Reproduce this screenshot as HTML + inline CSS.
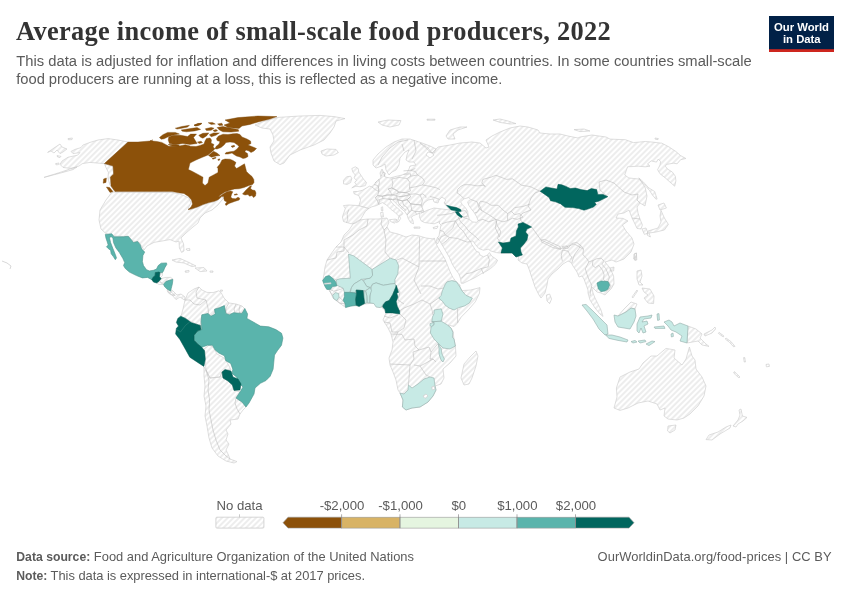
<!DOCTYPE html>
<html lang="en">
<head>
<meta charset="utf-8">
<title>Average income of small-scale food producers, 2022</title>
<style>
html,body{margin:0;padding:0;background:#fff;}
body{width:850px;height:600px;overflow:hidden;font-family:"Liberation Sans",sans-serif;}
svg{display:block;opacity:0.999;will-change:transform;}
text{font-family:"Liberation Sans",sans-serif;}
.title{font-family:"Liberation Serif",serif;font-weight:700;font-size:26.4px;fill:#333;letter-spacing:0.25px;}
.sub{font-size:14.75px;fill:#5b5b5b;}
.foot{font-size:12.9px;fill:#5b5b5b;}
.leg{font-size:13.2px;fill:#5b5b5b;}
.logo{font-size:11.3px;font-weight:700;fill:#fff;}
.b{font-weight:700;font-size:12.2px;}
</style>
</head>
<body>
<svg width="850" height="600" viewBox="0 0 850 600">
<rect width="850" height="600" fill="#fff"/>
<defs><pattern id="nodata" patternUnits="userSpaceOnUse" width="4" height="4" patternTransform="translate(0.5 0) rotate(-45 2 2)"><path d="M-1,2 l6,0" stroke="#ccc" stroke-width="0.7"/></pattern></defs>
<g stroke-linejoin="round">
<polygon points="128.0,142.0 118.0,140.0 108.0,138.6 98.0,140.0 90.0,142.4 83.0,145.0 81.0,147.6 75.0,149.4 71.0,151.4 73.0,153.6 80.0,152.6 77.6,155.2 68.0,157.2 62.0,161.0 60.0,164.4 63.0,167.4 70.0,168.4 77.0,167.0 73.0,169.6 60.0,173.2 44.0,177.4 60.0,172.4 73.0,168.0 79.0,166.0 82.4,163.6 90.0,162.4 99.0,163.2 104.4,163.6" fill="url(#nodata)" stroke="#c9c9c9" stroke-width="0.6"/>
<polygon points="104.4,163.6 106.0,167.6 108.4,172.4 108.0,178.0 109.6,184.4 114.0,190.4 112.4,185.0 110.8,178.0 113.6,174.0 113.0,166.4" fill="url(#nodata)" stroke="#c9c9c9" stroke-width="0.6"/>
<polygon points="47.6,152.4 54.0,148.0 60.0,144.0 62.0,147.0 67.0,149.0 63.0,152.0 60.0,153.6 57.0,150.0 54.0,153.0 51.0,151.0" fill="url(#nodata)" stroke="#c9c9c9" stroke-width="0.6"/>
<polygon points="57.0,155.6 61.0,156.4 60.0,157.6 57.6,157.0" fill="url(#nodata)" stroke="#c9c9c9" stroke-width="0.6"/>
<polygon points="55.6,163.6 59.0,163.0 58.6,164.6 56.0,164.8" fill="url(#nodata)" stroke="#c9c9c9" stroke-width="0.6"/>
<polygon points="68.0,138.6 72.4,138.0 72.0,139.6 68.4,139.8" fill="url(#nodata)" stroke="#c9c9c9" stroke-width="0.6"/>
<polygon points="112.0,192.0 106.0,200.0 100.0,210.0 99.0,220.0 101.0,229.0 106.0,233.6 113.0,236.0 128.0,236.6 133.0,241.0 139.0,242.0 144.0,250.0 147.0,246.0 154.0,242.4 162.0,241.0 170.0,239.6 176.0,242.0 179.0,241.0 179.4,248.0 181.6,252.4 184.0,251.0 183.6,244.0 181.0,238.0 186.0,233.0 193.0,227.0 198.0,223.0 200.0,218.0 205.0,213.0 212.0,210.0 218.0,205.0 222.0,200.0 224.0,197.0 220.0,198.0 214.0,202.0 208.0,203.0 200.0,206.0 190.0,210.0 188.0,208.0 191.0,203.0 189.0,198.0 180.0,194.0 172.0,192.4" fill="url(#nodata)" stroke="#c9c9c9" stroke-width="0.6"/>
<polygon points="160.0,272.6 162.4,272.1 162.4,275.6 160.6,277.4 159.4,276.8" fill="url(#nodata)" stroke="#c9c9c9" stroke-width="0.6"/>
<polygon points="159.4,280.3 161.2,278.5 165.9,277.4 170.6,277.4 172.9,279.1 169.4,280.3 165.9,281.5 163.5,283.8 161.2,282.6" fill="url(#nodata)" stroke="#c9c9c9" stroke-width="0.6"/>
<polygon points="156.5,282.9 158.8,281.5 161.2,282.9 162.9,284.4 158.8,284.4" fill="url(#nodata)" stroke="#c9c9c9" stroke-width="0.6"/>
<polygon points="167.1,289.5 170.6,290.9 172.9,293.8 175.3,295.6 170.6,294.6 167.6,292.1" fill="url(#nodata)" stroke="#c9c9c9" stroke-width="0.6"/>
<polygon points="172.0,260.0 180.0,258.4 188.0,262.0 196.0,266.0 192.0,266.6 184.0,263.0 176.0,262.0" fill="url(#nodata)" stroke="#c9c9c9" stroke-width="0.6"/>
<polygon points="195.0,268.0 204.0,267.6 207.0,271.0 200.0,271.6" fill="url(#nodata)" stroke="#c9c9c9" stroke-width="0.6"/>
<polygon points="185.0,271.0 189.0,270.4 189.0,272.0 185.6,272.4" fill="url(#nodata)" stroke="#c9c9c9" stroke-width="0.6"/>
<polygon points="210.0,271.0 213.0,271.0 213.0,272.2 210.0,272.2" fill="url(#nodata)" stroke="#c9c9c9" stroke-width="0.6"/>
<polygon points="186.0,249.0 189.6,248.4 190.0,250.4 187.0,250.4" fill="url(#nodata)" stroke="#c9c9c9" stroke-width="0.6"/>
<polygon points="181.0,316.4 183.0,309.0 185.0,300.0 188.0,293.0 194.0,289.0 199.0,287.0 202.0,290.0 207.0,292.4 213.0,292.6 218.8,290.8 221.0,292.4 224.0,298.0 229.0,303.0 236.0,304.0 242.0,306.0 245.0,309.0 242.0,313.0 231.0,314.0 226.0,313.0 224.0,306.0 215.0,309.0 214.0,313.0 209.0,317.0 202.0,315.0 200.0,326.0 190.0,321.0 185.0,318.0" fill="url(#nodata)" stroke="#c9c9c9" stroke-width="0.6"/>
<polygon points="170.0,289.0 173.0,291.0 177.0,295.0 181.0,294.0 185.0,297.0 184.4,300.0 180.0,297.0 176.0,299.6 172.0,295.0 168.0,292.0" fill="url(#nodata)" stroke="#c9c9c9" stroke-width="0.6"/>
<polygon points="220.4,290.0 222.4,290.0 222.4,291.2 220.4,291.2" fill="url(#nodata)" stroke="#c9c9c9" stroke-width="0.6"/>
<polygon points="204.0,349.0 209.0,345.0 213.0,347.0 217.0,354.0 224.0,358.0 228.0,364.0 231.0,370.0 226.0,370.0 222.0,372.0 220.0,377.0 210.0,378.0 206.0,370.0 205.0,358.0" fill="url(#nodata)" stroke="#c9c9c9" stroke-width="0.6"/>
<polygon points="204.0,367.0 204.0,376.0 205.0,386.0 204.0,396.0 206.0,406.0 205.0,416.0 207.0,426.0 209.0,438.0 212.0,448.0 218.0,456.0 226.0,461.0 234.0,463.0 237.0,461.6 230.0,459.0 228.0,454.0 226.0,450.0 229.0,444.0 226.0,440.0 228.0,434.0 226.0,430.0 231.0,424.0 230.0,420.0 238.0,419.0 240.0,414.0 243.0,410.0 246.0,407.0 242.0,402.0 236.0,398.0 240.0,392.0 234.0,390.4 232.4,385.0 228.0,381.0 223.0,378.0 222.0,372.0 220.0,377.0 210.0,378.0 206.0,370.0" fill="url(#nodata)" stroke="#c9c9c9" stroke-width="0.6"/>
<polygon points="359.0,220.0 353.0,224.0 349.0,230.0 344.0,235.0 341.0,242.0 336.0,247.0 331.0,254.0 327.0,260.0 325.0,267.0 324.0,274.0 323.0,280.0 325.0,286.0 330.0,291.0 333.0,298.0 338.0,302.0 345.0,307.0 352.0,305.6 358.0,306.0 365.0,304.0 374.0,303.0 379.0,306.0 384.0,309.0 386.0,313.0 383.0,320.0 388.0,328.0 391.0,334.0 393.0,342.0 392.0,350.0 389.0,358.0 390.0,365.0 393.0,372.0 396.0,380.0 398.0,390.0 400.0,393.0 403.0,400.0 402.4,407.0 406.0,410.0 412.0,408.0 420.0,407.0 428.0,402.0 433.0,396.0 436.0,390.0 435.0,386.0 441.0,384.0 444.0,378.0 443.0,369.0 450.0,363.0 456.0,356.0 455.4,346.0 454.0,339.0 453.0,331.0 448.0,325.0 454.1,326.5 457.6,322.9 461.2,317.1 468.2,310.0 475.3,301.8 479.4,293.5 480.0,287.6 470.6,290.0 461.8,290.6 460.0,287.1 460.0,285.0 456.5,282.1 452.9,277.4 450.0,271.5 447.6,265.6 445.3,259.7 441.2,252.6 437.6,246.8 435.3,241.5 434.1,237.9 434.0,239.0 426.0,238.0 418.0,235.6 412.0,235.0 406.0,237.0 398.0,234.0 390.0,232.0 387.0,227.0 389.0,222.0 387.0,218.0 378.0,219.0 368.0,219.0" fill="url(#nodata)" stroke="#c9c9c9" stroke-width="0.6"/>
<polygon points="461.0,378.0 464.0,364.0 470.0,357.0 476.0,351.0 478.0,356.0 476.0,366.0 472.0,378.0 469.0,384.0 464.0,385.0" fill="url(#nodata)" stroke="#c9c9c9" stroke-width="0.6"/>
<polygon points="422.0,143.0 416.0,141.0 410.0,139.0 402.0,139.0 394.0,142.0 386.0,147.0 378.0,154.0 373.0,160.0 373.0,165.0 376.0,168.0 382.0,166.0 385.0,164.0 386.0,170.0 389.0,175.0 392.0,172.0 396.0,170.0 399.0,165.0 400.0,158.0 405.0,152.0 409.0,150.0 407.0,155.0 406.0,160.0 409.0,162.0 414.0,162.0 416.0,165.0 410.0,166.0 409.0,169.0 407.0,173.0 402.0,175.0 396.0,176.4 390.0,178.0 385.0,177.0 384.0,173.0 382.0,169.0 380.0,173.0 381.0,178.0 378.0,180.0 375.0,183.0 376.5,181.5 374.1,184.4 371.8,186.8 369.4,186.2 366.5,187.9 362.4,190.3 357.6,191.5 353.5,191.5 354.1,193.8 358.8,195.6 360.6,200.3 358.8,205.6 348.8,205.0 343.5,205.6 345.3,208.5 344.1,212.1 342.4,216.8 343.5,221.5 347.1,222.6 351.2,223.8 355.3,223.2 360.0,220.3 362.9,215.6 365.3,211.5 368.8,208.5 371.8,206.8 376.5,205.6 378.8,204.4 382.4,202.6 386.5,205.0 390.6,209.1 395.3,212.6 398.8,216.2 398.2,219.7 396.5,222.6 398.8,221.5 400.6,218.5 399.4,215.6 401.8,215.0 402.9,213.2 400.0,210.3 395.3,206.2 391.8,202.6 389.4,199.1 391.8,199.1 395.3,202.6 400.0,207.4 404.7,211.5 407.1,215.0 408.2,218.5 410.6,222.6 413.5,223.8 412.9,220.3 411.2,217.4 413.5,215.6 416.5,214.4 420.0,213.2 419.4,216.8 421.2,220.9 424.7,222.6 429.4,223.2 434.1,223.8 440.0,221.5 439.0,223.0 441.0,225.0 440.0,230.0 439.0,236.0 437.6,237.4 435.9,241.5 437.6,243.8 439.4,240.3 441.8,244.4 445.3,250.3 449.4,257.4 452.4,264.4 455.3,269.1 458.8,273.8 460.6,278.5 461.2,283.2 463.5,283.2 469.4,280.3 475.3,277.4 481.2,273.8 485.9,271.5 490.6,268.5 495.3,264.4 497.6,260.3 495.3,258.5 491.8,256.2 489.4,252.6 487.6,255.0 483.5,256.8 480.0,255.0 478.8,252.1 476.5,251.5 474.1,247.9 471.8,244.4 470.6,241.5 472.9,240.9 475.3,244.4 478.8,248.5 483.5,250.3 488.2,249.1 490.6,250.9 496.5,252.6 501.2,253.2 512.0,253.0 516.0,257.0 519.0,256.4 518.0,260.0 522.0,263.0 527.0,264.0 529.0,269.0 532.0,278.0 535.0,287.0 539.0,295.0 541.0,298.0 545.0,293.0 547.0,285.0 548.0,279.0 552.0,274.0 558.0,269.0 563.0,264.0 568.0,261.0 571.0,262.4 573.0,266.0 577.0,272.0 579.0,277.0 582.0,276.0 584.0,279.0 588.0,290.0 588.0,293.0 590.0,300.0 595.0,308.0 600.0,314.0 603.0,316.4 601.0,310.0 598.0,304.0 595.0,298.0 593.0,293.0 591.6,287.0 594.0,289.0 597.0,292.0 601.0,293.0 605.0,295.0 611.0,289.0 614.0,284.0 613.6,276.0 610.0,268.0 605.0,262.0 612.0,260.0 616.0,262.0 624.0,259.0 631.0,252.0 634.0,244.0 632.0,238.0 626.0,231.0 622.4,225.0 628.0,221.0 623.0,218.4 616.0,218.0 618.0,214.0 624.0,213.0 629.0,210.0 632.0,218.0 635.0,224.0 637.0,228.4 641.0,229.0 642.4,225.0 640.0,219.0 638.0,213.0 637.0,207.0 640.0,203.0 645.0,206.0 647.0,196.0 646.5,193.8 645.3,187.9 641.8,182.1 639.4,179.1 633.5,178.5 628.8,177.9 624.7,175.0 627.6,166.8 638.2,166.2 645.3,166.8 650.0,166.2 647.6,163.8 651.2,160.9 656.5,162.1 658.2,159.1 660.6,161.5 660.0,165.0 657.6,169.7 660.0,173.8 665.3,177.9 671.2,183.2 674.7,186.2 675.9,180.9 675.3,176.2 672.4,172.1 667.6,169.1 665.3,166.2 666.5,164.4 673.5,163.2 677.1,163.8 680.6,159.7 685.9,158.5 680.6,155.6 675.9,151.5 668.8,146.8 661.8,143.2 652.4,142.1 645.3,141.5 633.5,142.6 625.3,139.7 610.0,139.1 606.0,137.0 592.0,135.0 580.0,137.0 578.0,138.0 568.0,136.0 560.0,134.0 550.0,134.0 540.0,133.0 538.0,130.0 528.0,127.0 520.0,126.0 510.0,128.0 500.0,132.0 492.0,136.0 486.0,140.0 489.0,147.0 486.0,148.0 480.0,143.0 472.0,142.0 460.0,143.0 450.0,145.0 438.0,147.0 432.0,153.0 428.0,148.0 420.0,143.0 434.0,155.0 430.0,158.0 426.0,155.0 428.0,152.0 434.0,153.0 436.0,149.0 430.0,146.0" fill="url(#nodata)" stroke="#c9c9c9" stroke-width="0.6"/>
<polygon points="351.8,187.9 355.9,186.2 360.0,186.8 365.3,185.6 366.5,182.6 363.5,179.1 361.2,175.6 358.8,172.1 358.2,168.5 355.3,166.8 351.8,168.5 352.9,172.1 355.3,175.0 354.1,177.9 356.5,180.3 354.7,182.6 356.5,184.4" fill="url(#nodata)" stroke="#c9c9c9" stroke-width="0.6"/>
<polygon points="343.5,180.3 346.5,176.8 350.6,176.2 351.8,178.5 350.6,182.6 347.1,184.4 343.5,183.8" fill="url(#nodata)" stroke="#c9c9c9" stroke-width="0.6"/>
<polygon points="321.0,151.0 327.0,149.0 336.0,149.4 338.4,152.6 334.0,155.0 326.0,156.0 322.0,154.0" fill="url(#nodata)" stroke="#c9c9c9" stroke-width="0.6"/>
<polygon points="378.0,122.0 388.0,120.0 401.0,120.6 399.0,125.0 390.0,127.0 382.0,125.0" fill="url(#nodata)" stroke="#c9c9c9" stroke-width="0.6"/>
<polygon points="381.2,207.4 382.6,206.8 382.9,210.9 381.4,210.6" fill="url(#nodata)" stroke="#c9c9c9" stroke-width="0.6"/>
<polygon points="380.6,212.6 382.9,212.1 383.5,216.8 381.2,217.4" fill="url(#nodata)" stroke="#c9c9c9" stroke-width="0.6"/>
<polygon points="389.4,219.7 395.3,219.1 397.1,219.7 394.7,223.2 390.6,221.5" fill="url(#nodata)" stroke="#c9c9c9" stroke-width="0.6"/>
<polygon points="414.0,227.0 420.0,227.0 420.0,228.2 414.0,228.2" fill="url(#nodata)" stroke="#c9c9c9" stroke-width="0.6"/>
<polygon points="433.0,227.6 438.0,226.0 437.0,228.4 433.6,228.8" fill="url(#nodata)" stroke="#c9c9c9" stroke-width="0.6"/>
<polygon points="446.0,136.0 450.0,130.0 460.0,127.0 467.0,127.0 458.0,130.0 453.0,134.0 455.0,139.0 448.0,139.0" fill="url(#nodata)" stroke="#c9c9c9" stroke-width="0.6"/>
<polygon points="493.0,120.0 500.0,119.0 508.0,121.0 516.0,123.6 510.0,124.0 500.0,122.4" fill="url(#nodata)" stroke="#c9c9c9" stroke-width="0.6"/>
<polygon points="427.0,119.2 435.0,119.2 435.0,120.2 427.0,120.2" fill="url(#nodata)" stroke="#c9c9c9" stroke-width="0.6"/>
<polygon points="574.0,129.6 584.0,129.0 590.0,131.0 580.0,131.6" fill="url(#nodata)" stroke="#c9c9c9" stroke-width="0.6"/>
<polygon points="655.0,138.0 658.4,138.6 658.0,139.6 655.2,139.2" fill="url(#nodata)" stroke="#c9c9c9" stroke-width="0.6"/>
<polygon points="638.8,177.9 642.9,181.5 648.8,187.9 654.7,191.5 657.1,199.1 655.9,199.1 652.4,195.0 649.4,190.3 645.3,185.6 641.2,181.5" fill="url(#nodata)" stroke="#c9c9c9" stroke-width="0.6"/>
<polygon points="658.0,205.0 664.0,203.0 666.4,208.0 660.0,210.0" fill="url(#nodata)" stroke="#c9c9c9" stroke-width="0.6"/>
<polygon points="661.0,210.4 664.4,218.0 668.4,224.4 664.4,230.0 656.0,232.0 649.0,233.0 650.4,237.0 647.0,235.0 648.0,231.0 658.0,228.0 661.0,222.0 660.0,216.0" fill="url(#nodata)" stroke="#c9c9c9" stroke-width="0.6"/>
<polygon points="642.0,229.0 646.0,228.0 648.0,233.0 644.4,234.4" fill="url(#nodata)" stroke="#c9c9c9" stroke-width="0.6"/>
<polygon points="634.0,254.0 636.4,253.0 636.0,260.0 633.6,259.0" fill="url(#nodata)" stroke="#c9c9c9" stroke-width="0.6"/>
<polygon points="610.0,268.0 614.0,267.0 613.6,271.0 610.4,271.0" fill="url(#nodata)" stroke="#c9c9c9" stroke-width="0.6"/>
<polygon points="546.4,295.0 549.6,294.0 551.6,299.0 549.6,303.6 547.0,301.0" fill="url(#nodata)" stroke="#c9c9c9" stroke-width="0.6"/>
<polygon points="255.0,125.0 262.0,122.0 278.0,117.4 300.0,116.0 320.0,115.4 334.0,116.6 345.0,118.6 336.0,121.0 334.0,127.0 330.0,133.0 324.0,140.0 314.0,145.0 300.0,150.0 290.0,155.0 284.0,163.0 280.0,164.6 274.0,161.0 271.0,153.0 270.0,147.0 274.0,141.0 273.0,135.0 270.0,129.0 262.0,128.0" fill="url(#nodata)" stroke="#c9c9c9" stroke-width="0.6"/>
<polygon points="618.0,316.0 624.0,309.0 631.0,302.0 637.0,304.0 635.0,309.0 631.0,308.0 626.0,312.0" fill="url(#nodata)" stroke="#c9c9c9" stroke-width="0.6"/>
<polygon points="688.0,326.0 696.0,329.0 702.0,334.0 700.0,338.0 706.0,344.0 709.0,346.4 702.0,345.0 698.0,341.0 687.0,343.0" fill="url(#nodata)" stroke="#c9c9c9" stroke-width="0.6"/>
<polygon points="704.0,334.0 712.0,330.0 715.0,327.0 715.6,329.0 712.0,333.0 705.0,336.0" fill="url(#nodata)" stroke="#c9c9c9" stroke-width="0.6"/>
<polygon points="637.0,271.0 641.0,270.0 642.0,276.0 640.0,282.0 643.0,285.0 639.0,285.0 637.0,279.0" fill="url(#nodata)" stroke="#c9c9c9" stroke-width="0.6"/>
<polygon points="642.0,288.0 650.0,289.0 654.0,296.0 653.6,303.6 648.0,303.0 644.0,298.0 648.0,295.0 644.0,292.0" fill="url(#nodata)" stroke="#c9c9c9" stroke-width="0.6"/>
<polygon points="632.0,297.0 637.0,290.0 637.6,291.0 632.8,298.0" fill="url(#nodata)" stroke="#c9c9c9" stroke-width="0.6"/>
<polygon points="634.4,254.0 636.4,253.0 636.8,260.0 634.8,260.4" fill="url(#nodata)" stroke="#c9c9c9" stroke-width="0.6"/>
<polygon points="614.0,408.0 617.0,397.0 616.4,388.0 620.0,377.0 630.0,372.0 639.0,369.0 643.0,363.0 651.0,356.0 657.0,356.0 666.0,348.4 675.0,350.0 674.0,358.0 682.0,365.0 686.0,359.0 689.4,347.0 692.0,356.0 695.0,360.0 696.0,369.0 702.0,377.0 706.0,386.0 704.0,396.0 698.0,406.0 690.0,414.0 684.0,418.0 677.0,420.0 668.0,419.0 664.0,416.0 665.0,408.0 660.0,410.0 657.0,404.0 648.0,401.0 638.0,403.0 628.0,408.0 620.0,410.4" fill="url(#nodata)" stroke="#c9c9c9" stroke-width="0.6"/>
<polygon points="668.0,426.0 676.0,425.0 675.0,430.0 670.0,433.0 667.6,431.0" fill="url(#nodata)" stroke="#c9c9c9" stroke-width="0.6"/>
<polygon points="739.0,410.0 741.0,409.0 742.4,416.0 747.0,417.4 743.0,421.0 738.0,424.0 736.0,427.0 733.0,426.0 738.0,420.0 740.0,415.0" fill="url(#nodata)" stroke="#c9c9c9" stroke-width="0.6"/>
<polygon points="731.0,425.0 730.0,428.0 720.0,434.0 712.0,440.0 706.0,439.6 709.0,435.0 718.0,432.0 726.0,427.0" fill="url(#nodata)" stroke="#c9c9c9" stroke-width="0.6"/>
<polygon points="734.4,371.6 740.0,377.0 739.0,378.0 733.6,373.0" fill="url(#nodata)" stroke="#c9c9c9" stroke-width="0.6"/>
<polygon points="743.6,357.6 744.8,357.6 745.4,362.0 744.2,362.0" fill="url(#nodata)" stroke="#c9c9c9" stroke-width="0.6"/>
<polygon points="766.0,364.4 769.0,364.0 769.4,366.4 766.4,366.8" fill="url(#nodata)" stroke="#c9c9c9" stroke-width="0.6"/>
<polygon points="719.0,332.4 724.0,336.0 723.2,337.0 718.4,333.4" fill="url(#nodata)" stroke="#c9c9c9" stroke-width="0.6"/>
<polygon points="726.0,338.0 731.0,341.6 735.0,346.4 733.6,346.8 729.6,342.4 725.2,339.0" fill="url(#nodata)" stroke="#c9c9c9" stroke-width="0.6"/>
<polyline points="206.0,370.0 209.0,380.0 208.0,390.0 209.6,400.0 209.0,410.0 211.0,420.0 213.0,430.0 216.0,440.0 220.0,450.0 226.0,456.0 230.0,459.0" fill="none" stroke="#bebebe" stroke-width="0.6"/>
<polyline points="236.0,398.0 235.0,403.0 237.0,409.0 240.0,414.0" fill="none" stroke="#bebebe" stroke-width="0.6"/>
<polyline points="199.0,287.0 196.0,292.0 197.0,298.0 206.0,300.0 208.0,308.0 209.0,317.0" fill="none" stroke="#bebebe" stroke-width="0.6"/>
<polyline points="229.0,303.0 226.0,308.0 226.0,313.0" fill="none" stroke="#bebebe" stroke-width="0.6"/>
<polyline points="236.0,304.0 234.0,309.0 235.0,313.6" fill="none" stroke="#bebebe" stroke-width="0.6"/>
<polyline points="240.0,305.6 239.0,310.0 239.6,313.2" fill="none" stroke="#bebebe" stroke-width="0.6"/>
<polyline points="185.0,300.0 190.0,300.0 194.0,304.0 200.0,305.0 206.0,300.0" fill="none" stroke="#bebebe" stroke-width="0.6"/>
<polyline points="336.0,247.0 344.0,247.0 344.0,251.0 337.0,252.0 336.0,258.0 327.0,260.0" fill="none" stroke="#bebebe" stroke-width="0.6"/>
<polyline points="368.0,219.0 367.0,226.0 359.0,230.0 353.0,235.0 344.0,240.0 344.0,247.0 349.0,253.0" fill="none" stroke="#bebebe" stroke-width="0.6"/>
<polyline points="382.0,219.0 381.0,224.0 384.0,230.0 387.0,227.0" fill="none" stroke="#bebebe" stroke-width="0.6"/>
<polyline points="384.0,230.0 386.0,240.0 385.0,252.0 390.0,258.0" fill="none" stroke="#bebebe" stroke-width="0.6"/>
<polyline points="397.0,260.0 402.0,258.0 419.0,267.0 419.6,237.0" fill="none" stroke="#bebebe" stroke-width="0.6"/>
<polyline points="419.6,261.0 446.0,261.0" fill="none" stroke="#bebebe" stroke-width="0.6"/>
<polyline points="419.0,267.0 414.0,280.0 418.0,288.0 421.0,294.0" fill="none" stroke="#bebebe" stroke-width="0.6"/>
<polyline points="396.0,286.0 400.0,292.0 398.0,300.0 404.0,304.0" fill="none" stroke="#bebebe" stroke-width="0.6"/>
<polyline points="336.2,280.0 332.6,278.2" fill="none" stroke="#bebebe" stroke-width="0.6"/>
<polyline points="330.3,289.4 333.8,291.2 338.5,290.0 343.2,288.2" fill="none" stroke="#bebebe" stroke-width="0.6"/>
<polyline points="329.1,290.6 332.6,295.3" fill="none" stroke="#bebebe" stroke-width="0.6"/>
<polyline points="339.1,297.1 343.2,300.6" fill="none" stroke="#bebebe" stroke-width="0.6"/>
<polyline points="336.8,300.6 340.3,303.5 345.0,303.5" fill="none" stroke="#bebebe" stroke-width="0.6"/>
<polyline points="398.0,312.0 404.0,308.0 414.0,304.0 422.0,300.0 430.0,304.0 440.0,297.0" fill="none" stroke="#bebebe" stroke-width="0.6"/>
<polyline points="421.0,286.0 430.0,286.0 438.0,289.0 444.0,288.0" fill="none" stroke="#bebebe" stroke-width="0.6"/>
<polyline points="400.0,314.0 406.0,320.0 404.0,328.0 398.0,332.0 394.0,340.0" fill="none" stroke="#bebebe" stroke-width="0.6"/>
<polyline points="384.0,316.0 390.0,318.0 398.0,315.0" fill="none" stroke="#bebebe" stroke-width="0.6"/>
<polyline points="384.0,322.0 390.0,323.0 392.0,332.0 398.0,332.0" fill="none" stroke="#bebebe" stroke-width="0.6"/>
<polyline points="430.0,304.0 432.0,310.0 433.0,315.0" fill="none" stroke="#bebebe" stroke-width="0.6"/>
<polyline points="391.0,334.0 402.0,334.4 405.0,340.0 414.0,339.0 415.0,346.0 419.0,350.0 429.0,347.0 431.0,352.0 438.0,343.6" fill="none" stroke="#bebebe" stroke-width="0.6"/>
<polyline points="390.0,364.0 410.0,365.0 414.0,359.0 413.0,352.0 419.0,350.0" fill="none" stroke="#bebebe" stroke-width="0.6"/>
<polyline points="410.0,365.0 409.0,378.0 408.4,385.0" fill="none" stroke="#bebebe" stroke-width="0.6"/>
<polyline points="414.0,365.0 420.0,366.0 426.0,375.0 430.0,377.0" fill="none" stroke="#bebebe" stroke-width="0.6"/>
<polyline points="420.0,366.0 426.0,363.0 433.0,359.0 436.0,362.0" fill="none" stroke="#bebebe" stroke-width="0.6"/>
<polyline points="431.0,352.0 430.0,359.0 433.0,359.0" fill="none" stroke="#bebebe" stroke-width="0.6"/>
<polyline points="457.6,322.9 457.6,308.8" fill="none" stroke="#bebebe" stroke-width="0.6"/>
<polyline points="348.8,209.5 347.1,214.4 347.8,219.1 346.5,222.6" fill="none" stroke="#bebebe" stroke-width="0.6"/>
<polyline points="358.8,205.6 368.8,208.5" fill="none" stroke="#bebebe" stroke-width="0.6"/>
<polyline points="371.8,186.8 375.3,189.7 378.8,191.5 377.6,195.6 375.3,197.9 377.1,200.3 378.8,204.4" fill="none" stroke="#bebebe" stroke-width="0.6"/>
<polyline points="374.1,184.4 377.6,185.6 378.8,188.5 378.8,191.5" fill="none" stroke="#bebebe" stroke-width="0.6"/>
<polyline points="378.8,179.1 379.4,182.6 378.2,188.5 378.8,191.5" fill="none" stroke="#bebebe" stroke-width="0.6"/>
<polyline points="377.6,195.6 382.4,196.2 387.1,195.0 391.8,195.0 390.6,192.1 388.2,189.1 391.8,187.9 392.9,183.8 391.8,179.1" fill="none" stroke="#bebebe" stroke-width="0.6"/>
<polyline points="381.2,176.2 382.9,172.1 385.3,173.2 384.1,176.8" fill="none" stroke="#bebebe" stroke-width="0.6"/>
<polyline points="375.3,197.9 377.6,195.6 382.4,196.2 382.9,198.5 379.4,199.7 377.1,200.3" fill="none" stroke="#bebebe" stroke-width="0.6"/>
<polyline points="382.4,196.2 387.1,195.0 391.8,195.0 396.5,195.6 397.1,197.9 392.9,199.7 388.2,199.1 382.9,198.5" fill="none" stroke="#bebebe" stroke-width="0.6"/>
<polyline points="388.2,189.1 391.8,187.9 396.5,190.3 398.8,192.1 396.5,193.8 391.8,195.0" fill="none" stroke="#bebebe" stroke-width="0.6"/>
<polyline points="391.8,179.1 398.8,177.4 407.1,178.5 410.0,182.6 409.4,187.9 410.6,190.9 405.9,192.6 398.8,192.1 396.5,190.3 391.8,187.9" fill="none" stroke="#bebebe" stroke-width="0.6"/>
<polyline points="396.5,193.8 398.8,192.1 405.9,192.6 409.4,193.8 408.2,195.6 403.5,196.2 398.8,196.8 396.5,195.6" fill="none" stroke="#bebebe" stroke-width="0.6"/>
<polyline points="398.8,196.8 403.5,196.2 409.4,194.4 410.6,196.8 407.1,199.7 402.4,200.9 397.6,199.7 397.1,197.9" fill="none" stroke="#bebebe" stroke-width="0.6"/>
<polyline points="409.4,194.4 415.3,193.8 420.0,195.0 422.4,200.3 421.2,205.0 415.3,204.4 410.6,203.8 407.1,199.7 410.6,196.8" fill="none" stroke="#bebebe" stroke-width="0.6"/>
<polyline points="410.6,203.8 415.3,204.4 421.2,205.0 422.4,208.5 424.7,210.3 420.0,211.5 415.3,211.5 411.8,210.3 411.2,206.8 410.6,203.8" fill="none" stroke="#bebebe" stroke-width="0.6"/>
<polyline points="409.4,187.9 415.3,186.8 422.4,185.0 429.4,186.2 436.5,187.9 440.0,189.7" fill="none" stroke="#bebebe" stroke-width="0.6"/>
<polyline points="420.0,195.0 422.4,193.8 425.9,196.2 425.9,197.9" fill="none" stroke="#bebebe" stroke-width="0.6"/>
<polyline points="407.1,178.5 410.6,176.2 417.6,175.0 422.4,177.9 424.7,181.5 422.4,185.0" fill="none" stroke="#bebebe" stroke-width="0.6"/>
<polyline points="403.5,174.4 410.6,173.8 410.6,176.2" fill="none" stroke="#bebebe" stroke-width="0.6"/>
<polyline points="403.5,170.9 410.6,170.3 415.3,171.5 417.6,175.0" fill="none" stroke="#bebebe" stroke-width="0.6"/>
<polyline points="410.6,170.3 415.3,168.5" fill="none" stroke="#bebebe" stroke-width="0.6"/>
<polyline points="392.9,199.7 397.6,199.7 402.4,200.9 407.1,199.7 410.6,203.8" fill="none" stroke="#bebebe" stroke-width="0.6"/>
<polyline points="397.6,199.7 398.8,203.8 402.4,207.4 405.9,210.3" fill="none" stroke="#bebebe" stroke-width="0.6"/>
<polyline points="402.4,200.9 403.5,205.0 407.1,207.4 409.4,212.1 407.1,215.0" fill="none" stroke="#bebebe" stroke-width="0.6"/>
<polyline points="409.4,212.1 411.8,210.3" fill="none" stroke="#bebebe" stroke-width="0.6"/>
<polyline points="415.3,211.5 416.5,214.4" fill="none" stroke="#bebebe" stroke-width="0.6"/>
<polyline points="378.8,204.4 379.4,199.7" fill="none" stroke="#bebebe" stroke-width="0.6"/>
<polyline points="388.2,199.1 391.8,199.1" fill="none" stroke="#bebebe" stroke-width="0.6"/>
<polyline points="437.6,237.4 439.4,240.3" fill="none" stroke="#bebebe" stroke-width="0.6"/>
<polyline points="441.8,223.8 447.1,222.1 455.3,220.9 458.8,218.5 462.4,217.4 467.1,216.2 469.4,215.0" fill="none" stroke="#bebebe" stroke-width="0.6"/>
<polyline points="440.0,230.3 443.5,231.5 445.3,235.0 441.2,236.8 439.4,240.3" fill="none" stroke="#bebebe" stroke-width="0.6"/>
<polyline points="445.3,235.0 449.4,237.4 447.1,240.3 441.8,244.4" fill="none" stroke="#bebebe" stroke-width="0.6"/>
<polyline points="455.3,220.9 458.8,226.8 463.5,231.5 467.1,237.4 470.6,241.5" fill="none" stroke="#bebebe" stroke-width="0.6"/>
<polyline points="445.3,235.0 452.9,227.9 455.3,220.9" fill="none" stroke="#bebebe" stroke-width="0.6"/>
<polyline points="449.4,237.4 457.6,238.5 467.1,242.1 470.6,241.5" fill="none" stroke="#bebebe" stroke-width="0.6"/>
<polyline points="496.5,220.9 495.3,227.9 498.8,235.0 497.6,238.5 501.2,243.2 502.4,247.9 501.2,253.2" fill="none" stroke="#bebebe" stroke-width="0.6"/>
<polyline points="461.2,278.5 465.9,273.8 471.8,272.6 481.2,268.5 483.5,273.8" fill="none" stroke="#bebebe" stroke-width="0.6"/>
<polyline points="481.2,268.5 488.2,266.8 489.4,259.7 487.6,255.0" fill="none" stroke="#bebebe" stroke-width="0.6"/>
<polyline points="541.2,240.0 544.7,239.4 551.8,242.9 560.0,246.5 560.6,249.4 552.9,247.6 544.7,243.5 541.2,241.8 541.2,240.0" fill="none" stroke="#bebebe" stroke-width="0.6"/>
<polyline points="562.4,246.5 567.1,245.9 568.2,248.2 563.5,248.8 562.4,246.5" fill="none" stroke="#bebebe" stroke-width="0.6"/>
<polyline points="562.4,261.2 561.2,255.9 562.4,250.0 568.2,251.2 570.0,255.3 571.8,257.1 570.6,259.4" fill="none" stroke="#bebebe" stroke-width="0.6"/>
<polyline points="568.2,248.2 571.8,243.5 576.5,242.4 580.6,245.3 578.8,248.8 575.3,253.5 573.5,257.1 571.8,262.9" fill="none" stroke="#bebebe" stroke-width="0.6"/>
<polyline points="580.6,245.3 583.5,248.8 582.9,254.7 586.5,258.2 588.8,261.8 592.9,260.6" fill="none" stroke="#bebebe" stroke-width="0.6"/>
<polyline points="588.8,261.8 587.1,265.3 585.3,268.8 587.1,274.7 589.4,280.6 591.8,285.3 590.6,290.0 590.0,295.9" fill="none" stroke="#bebebe" stroke-width="0.6"/>
<polyline points="592.9,260.6 592.4,265.3 595.3,267.6 598.8,265.3 602.4,270.0 604.1,274.7 603.5,279.4 605.9,281.8" fill="none" stroke="#bebebe" stroke-width="0.6"/>
<polyline points="592.9,260.6 596.5,258.8 601.2,258.2 604.1,261.2 601.8,264.1 605.9,268.8 609.4,277.1 608.2,281.2" fill="none" stroke="#bebebe" stroke-width="0.6"/>
<polyline points="597.1,284.1 598.8,281.8" fill="none" stroke="#bebebe" stroke-width="0.6"/>
<polyline points="608.2,281.2 610.6,285.3 609.4,288.8 605.9,291.2" fill="none" stroke="#bebebe" stroke-width="0.6"/>
<polyline points="457.6,189.4 460.6,186.5 464.1,184.7 470.0,184.7 477.1,185.9 482.9,185.3 485.3,186.5 481.8,182.9 482.9,179.4 491.2,177.1 495.9,175.3 500.6,177.1 506.5,179.4 512.4,178.8 521.8,185.3 530.0,186.5" fill="none" stroke="#bebebe" stroke-width="0.6"/>
<polyline points="457.6,189.4 457.1,192.9 460.6,195.3 464.1,198.8" fill="none" stroke="#bebebe" stroke-width="0.6"/>
<polyline points="470.6,199.4 477.1,201.8 479.4,208.8 481.8,210.6 478.8,204.1 480.6,201.2 486.5,202.4 491.2,205.3 498.2,205.3 502.9,210.0 507.6,213.5 511.2,211.2 514.7,207.6 522.9,206.5 530.0,204.1" fill="none" stroke="#bebebe" stroke-width="0.6"/>
<polyline points="479.4,208.8 477.1,212.4 474.7,212.9" fill="none" stroke="#bebebe" stroke-width="0.6"/>
<polyline points="481.8,210.6 488.8,214.7 495.9,219.4 502.9,221.8 507.6,220.6 507.6,213.5" fill="none" stroke="#bebebe" stroke-width="0.6"/>
<polyline points="478.2,220.6 482.9,219.4 488.8,221.8 495.9,219.4" fill="none" stroke="#bebebe" stroke-width="0.6"/>
<polyline points="507.6,220.6 512.4,218.2 517.1,219.4 522.9,217.1 519.4,213.5 514.7,214.7 511.2,211.2" fill="none" stroke="#bebebe" stroke-width="0.6"/>
<polyline points="446.5,205.3 444.1,201.8 439.4,199.4 434.7,197.6 430.0,196.5" fill="none" stroke="#bebebe" stroke-width="0.6"/>
<polyline points="461.2,211.2 465.3,210.6 468.2,215.3" fill="none" stroke="#bebebe" stroke-width="0.6"/>
<polyline points="462.4,216.5 465.3,218.2 469.4,219.4" fill="none" stroke="#bebebe" stroke-width="0.6"/>
<polyline points="455.3,211.8 451.2,213.5 444.1,214.7 437.1,215.3" fill="none" stroke="#bebebe" stroke-width="0.6"/>
<polyline points="458.2,217.1 460.6,221.8 465.3,226.5 468.8,231.2 474.7,235.9 479.4,240.6" fill="none" stroke="#bebebe" stroke-width="0.6"/>
<polyline points="495.9,219.4 497.1,225.3 500.6,231.2 499.4,237.1" fill="none" stroke="#bebebe" stroke-width="0.6"/>
<polyline points="378.0,165.0 382.0,157.0 390.0,148.0 398.0,142.0 408.0,140.0" fill="none" stroke="#bebebe" stroke-width="0.6"/>
<polyline points="402.0,144.0 404.0,151.0" fill="none" stroke="#bebebe" stroke-width="0.6"/>
<polyline points="414.0,140.0 416.0,151.0 412.0,159.0" fill="none" stroke="#bebebe" stroke-width="0.6"/>
<polyline points="607.6,196.6 600.0,190.0 599.0,182.0 606.0,180.0 614.0,183.0 624.0,192.0 632.0,195.0 638.0,194.0 637.0,200.0 640.0,203.0" fill="none" stroke="#bebebe" stroke-width="0.6"/>
<polyline points="540.0,191.0 535.0,193.0 531.0,198.0 528.0,206.0 531.0,210.0 523.0,213.0 520.0,216.0 521.0,221.0 523.0,222.4" fill="none" stroke="#bebebe" stroke-width="0.6"/>
<polyline points="531.6,227.0 536.0,233.0 541.0,240.0 550.0,244.0 560.0,249.0 566.0,247.0 574.0,244.0 578.0,246.0 583.0,249.0" fill="none" stroke="#bebebe" stroke-width="0.6"/>
<polyline points="530.0,186.5 540.0,191.2" fill="none" stroke="#bebebe" stroke-width="0.6"/>
<polyline points="632.0,218.0 640.0,219.0" fill="none" stroke="#bebebe" stroke-width="0.6"/>
<polyline points="2.0,261.0 7.0,263.0 11.0,266.0 10.0,269.0" fill="none" stroke="#bebebe" stroke-width="0.6"/>
<polygon points="421.0,213.0 424.0,212.0 422.0,207.0 424.0,203.0 428.0,200.0 433.0,199.0 434.0,202.0 438.0,203.0 439.0,200.0 442.0,197.0 446.0,200.0 444.0,203.0 446.0,205.6 450.0,210.0 442.0,209.0 434.0,208.0 428.0,210.0" fill="#fff" stroke="#c9c9c9" stroke-width="0.6"/>
<polygon points="460.6,201.8 464.1,198.8 468.8,197.6 470.6,199.4 467.6,201.8 468.8,205.3 471.2,208.8 474.1,212.4 476.5,216.5 478.2,220.6 476.5,222.4 472.4,221.8 469.4,219.4 468.2,215.3 467.6,211.2 465.3,207.6 462.4,204.7" fill="#fff" stroke="#c9c9c9" stroke-width="0.6"/>
<polygon points="348.5,254.1 353.8,255.9 372.1,269.4 372.6,275.3 370.3,278.2 366.8,278.8 361.5,279.4 353.8,284.1 351.5,287.6 349.7,292.4 344.4,292.4 343.2,288.2 340.9,287.1 336.8,285.3 336.2,280.0 339.7,278.8 350.3,278.2 349.1,261.8" fill="#c7eae5" stroke="#93adaa" stroke-width="0.6"/>
<polygon points="372.1,269.4 390.3,258.2 396.2,260.0 398.5,265.3 397.9,273.5 395.0,279.4 395.0,283.5 390.3,284.1 383.2,285.3 376.2,282.9 372.6,284.1 370.3,287.6 366.8,286.5 363.2,280.6 366.8,278.8 370.3,278.2 372.6,275.3" fill="#c7eae5" stroke="#93adaa" stroke-width="0.6"/>
<polygon points="361.5,279.4 363.2,280.6 366.8,286.5 370.3,287.6 365.6,290.6 363.2,290.6 356.2,290.0 355.6,292.4 350.3,292.4 351.5,287.6 353.8,284.1" fill="#c7eae5" stroke="#93adaa" stroke-width="0.6"/>
<polygon points="372.6,284.1 376.2,282.9 383.2,285.3 390.3,284.1 395.0,283.5 396.2,286.5 392.6,294.7 389.1,300.6 385.6,301.8 383.2,304.7 380.3,307.6 376.2,307.1 373.8,303.5 369.7,302.9 370.3,291.2 371.5,286.5" fill="#c7eae5" stroke="#93adaa" stroke-width="0.6"/>
<polygon points="366.8,290.0 370.3,287.6 371.5,290.6 369.7,295.9 369.7,302.9 367.4,302.9 366.8,295.9 365.6,291.2" fill="#c7eae5" stroke="#93adaa" stroke-width="0.6"/>
<polygon points="364.4,291.2 365.6,291.2 366.8,295.9 366.8,302.9 365.0,303.5 363.8,297.1" fill="#c7eae5" stroke="#93adaa" stroke-width="0.6"/>
<polygon points="332.6,295.3 335.6,292.6 338.5,293.5 339.1,297.1 336.8,300.6 333.8,298.8" fill="#c7eae5" stroke="#93adaa" stroke-width="0.6"/>
<polygon points="438.8,298.2 441.2,295.3 442.4,290.6 445.3,284.1 447.1,281.8 451.8,280.6 456.5,281.8 460.0,287.1 461.8,290.6 465.9,295.3 472.4,298.2 469.4,302.9 464.7,305.9 458.8,307.6 454.1,310.0 449.4,308.2 445.3,305.3 442.4,301.2" fill="#c7eae5" stroke="#93adaa" stroke-width="0.6"/>
<polygon points="434.1,310.0 441.2,308.8 442.9,314.1 441.8,318.8 441.2,321.2 431.8,321.8 432.4,317.1 434.1,313.5" fill="#c7eae5" stroke="#93adaa" stroke-width="0.6"/>
<polygon points="430.0,323.5 434.1,322.4 434.1,324.7 431.8,326.5 430.0,325.9" fill="#c7eae5" stroke="#93adaa" stroke-width="0.6"/>
<polygon points="431.8,321.8 441.2,321.2 447.1,324.7 451.2,328.2 452.9,332.4 452.4,337.1 454.0,339.0 455.4,346.0 450.0,349.0 443.0,348.0 439.0,344.0 434.0,339.0 430.4,333.0 431.0,327.0 431.8,326.5 434.1,324.7 434.1,322.4" fill="#c7eae5" stroke="#93adaa" stroke-width="0.6"/>
<polygon points="438.0,343.6 441.0,348.0 442.0,354.0 444.4,359.0 443.0,362.0 441.0,360.0 439.0,354.0 439.0,348.0" fill="#c7eae5" stroke="#93adaa" stroke-width="0.6"/>
<polygon points="400.0,393.0 404.0,394.0 408.0,390.0 408.4,385.0 412.0,388.0 418.0,384.0 424.0,379.0 430.0,377.0 434.0,378.0 435.0,386.0 436.0,390.0 433.0,396.0 428.0,402.0 420.0,407.0 412.0,408.0 406.0,410.0 402.4,407.0 403.0,400.0" fill="#c7eae5" stroke="#93adaa" stroke-width="0.6"/>
<polygon points="582.0,305.0 586.0,304.4 593.0,311.0 600.0,318.0 607.0,325.0 608.0,334.0 605.0,335.0 599.0,329.0 593.0,319.0 587.0,311.0" fill="#c7eae5" stroke="#93adaa" stroke-width="0.6"/>
<polygon points="605.6,335.0 612.0,335.0 620.0,337.0 628.0,340.0 627.0,342.0 618.0,340.4 609.0,338.4" fill="#c7eae5" stroke="#93adaa" stroke-width="0.6"/>
<polygon points="614.0,315.0 618.0,316.0 626.0,312.0 631.0,308.0 635.0,309.0 636.0,316.0 634.0,322.0 630.0,329.0 624.0,328.0 618.0,327.0 615.0,322.0" fill="#c7eae5" stroke="#93adaa" stroke-width="0.6"/>
<polygon points="637.0,324.0 640.0,317.0 648.0,316.0 652.0,315.0 651.0,318.0 644.0,319.0 642.0,322.0 647.0,321.0 648.0,324.0 644.0,326.0 646.0,332.0 643.0,333.0 641.0,328.0 639.0,333.0 637.0,331.0" fill="#c7eae5" stroke="#93adaa" stroke-width="0.6"/>
<polygon points="631.0,341.6 635.0,340.4 637.0,342.0 633.0,343.0" fill="#c7eae5" stroke="#93adaa" stroke-width="0.6"/>
<polygon points="638.0,341.0 645.0,340.0 646.0,341.6 640.0,343.0" fill="#c7eae5" stroke="#93adaa" stroke-width="0.6"/>
<polygon points="646.0,344.0 652.0,341.0 655.0,341.6 649.0,345.6" fill="#c7eae5" stroke="#93adaa" stroke-width="0.6"/>
<polygon points="657.0,314.0 659.0,313.6 659.4,320.0 657.6,320.4" fill="#c7eae5" stroke="#93adaa" stroke-width="0.6"/>
<polygon points="654.0,327.0 664.0,326.0 665.0,328.4 655.0,328.4" fill="#c7eae5" stroke="#93adaa" stroke-width="0.6"/>
<polygon points="664.0,322.0 669.0,320.0 672.0,322.0 674.0,326.0 680.0,323.0 688.0,326.0 687.0,343.0 680.0,341.0 682.0,336.0 676.0,332.0 671.0,330.0 668.0,326.0" fill="#c7eae5" stroke="#93adaa" stroke-width="0.6"/>
<polygon points="671.0,334.0 673.0,333.0 673.4,336.4 671.4,337.0" fill="#c7eae5" stroke="#93adaa" stroke-width="0.6"/>
<polygon points="105.3,234.4 111.8,233.8 114.1,236.8 123.5,236.8 128.2,236.2 131.2,239.7 133.5,242.6 137.6,241.5 140.0,244.4 141.8,249.1 144.7,252.1 142.9,255.6 142.4,261.5 143.5,265.6 146.5,269.7 149.4,270.9 153.5,270.3 156.5,269.1 158.2,265.6 161.2,263.2 166.5,262.9 166.8,264.4 164.7,267.9 163.5,270.9 162.4,272.6 159.4,272.6 158.8,272.1 155.3,272.6 155.1,275.6 152.9,277.4 151.8,279.7 147.6,277.4 142.4,277.9 136.5,275.6 129.4,272.1 125.3,268.5 123.5,265.6 124.7,262.6 122.9,258.5 119.4,252.6 115.9,247.9 113.5,242.6 112.9,237.9 111.2,236.8 109.4,237.4 110.6,242.6 112.9,248.5 115.3,254.4 116.5,257.9 115.3,259.7 113.5,256.8 111.2,253.8 110.6,250.3 108.2,248.5 106.5,246.8 108.2,245.0 107.1,241.5 105.9,237.9" fill="#5ab4ac" stroke="#4a938c" stroke-width="0.6"/>
<polygon points="163.5,284.4 165.9,281.5 169.4,280.3 172.9,279.4 172.4,283.8 171.2,288.5 170.6,290.9 167.1,289.1 164.7,286.8" fill="#5ab4ac" stroke="#4a938c" stroke-width="0.6"/>
<polygon points="201.8,314.8 208.1,313.4 210.9,316.2 215.2,314.1 214.5,309.2 219.4,307.8 224.4,305.6 225.8,313.4 229.3,314.8 233.5,312.7 242.0,313.4 244.8,308.5 247.6,314.1 246.9,318.4 251.9,321.2 260.4,326.1 268.8,326.8 275.9,329.6 281.5,333.2 282.9,338.1 281.5,345.2 277.3,350.8 274.5,355.1 273.8,362.1 273.1,369.2 270.2,376.2 266.0,380.5 260.4,383.3 255.0,388.0 254.0,394.0 249.0,403.0 246.0,407.0 242.0,402.0 236.0,398.0 240.0,392.0 243.0,387.0 240.0,384.0 240.6,384.0 239.2,381.2 236.4,376.9 232.1,373.4 232.8,369.2 230.7,363.5 225.8,360.7 224.4,355.8 218.7,352.9 215.2,350.1 212.4,345.2 207.4,345.2 201.8,347.3 198.2,344.5 194.0,340.2 194.0,335.3 197.5,331.1 201.8,329.6 201.1,321.2" fill="#5ab4ac" stroke="#4a938c" stroke-width="0.6"/>
<polygon points="344.4,292.4 349.7,292.4 355.6,292.9 356.4,294.7 355.6,299.4 356.2,305.3 350.3,306.2 345.6,307.6 345.0,303.5 343.2,300.6 344.4,296.5" fill="#5ab4ac" stroke="#4a938c" stroke-width="0.6"/>
<polygon points="322.6,280.6 325.6,276.5 329.1,275.6 332.6,278.2 335.6,281.8 336.8,285.9 332.6,286.5 330.3,289.4 326.8,289.4 325.0,286.5 323.8,283.5" fill="#5ab4ac" stroke="#4a938c" stroke-width="0.6"/>
<polygon points="597.0,283.0 601.0,281.0 608.0,281.6 609.6,285.0 608.0,289.0 605.0,291.0 601.0,291.6 598.4,289.0" fill="#5ab4ac" stroke="#4a938c" stroke-width="0.6"/>
<polygon points="128.0,142.0 138.0,142.0 150.0,141.0 153.0,140.0 150.0,140.8 157.1,141.5 161.8,142.4 168.8,146.2 179.4,145.9 185.3,144.8 190.0,145.9 190.0,146.2 196.0,146.5 200.0,145.5 204.0,144.0 205.0,141.0 206.5,138.5 210.0,138.0 211.5,140.0 211.0,143.0 214.0,144.5 213.0,147.0 215.0,148.7 212.5,151.2 208.0,155.0 203.0,157.0 196.0,160.0 190.0,163.0 188.4,169.6 192.0,171.2 198.0,174.4 203.0,177.2 202.4,183.0 205.0,185.6 208.0,183.0 209.2,177.2 213.0,175.2 218.0,172.4 218.0,168.0 217.0,167.5 220.0,164.0 222.0,160.0 225.0,159.0 230.0,159.2 233.0,160.5 236.0,162.5 234.5,166.0 236.5,168.5 240.0,166.5 244.5,163.8 245.5,167.5 246.5,171.5 249.0,174.0 252.0,176.5 253.8,179.5 254.0,182.5 252.5,184.5 249.0,185.5 244.0,187.5 239.0,188.8 234.5,189.0 230.0,190.3 225.0,192.0 221.0,194.5 218.5,196.8 220.0,196.2 223.0,194.0 227.0,191.8 230.5,191.0 232.8,191.8 231.5,194.5 230.8,197.2 232.5,198.5 235.5,198.8 238.0,197.2 239.8,198.2 239.2,200.0 234.5,201.5 229.0,203.5 226.0,205.5 225.2,204.0 227.0,202.0 224.5,200.8 223.8,198.5 224.0,196.5 221.5,196.5 219.5,198.5 218.0,199.8 214.5,201.2 209.0,202.5 203.0,204.5 198.0,206.8 192.0,208.8 188.0,209.7 191.0,207.0 192.5,204.0 191.5,200.0 188.5,196.5 184.0,193.5 180.0,193.0 172.0,191.6 115.0,191.6 111.0,186.0 110.4,177.0 113.6,174.0 113.0,166.0 104.4,163.6" fill="#8c510a" stroke="#7a4709" stroke-width="0.4"/>
<polygon points="103.6,179.0 106.4,178.0 106.0,182.4 103.2,183.2" fill="#8c510a" stroke="#7a4709" stroke-width="0.4"/>
<polygon points="106.4,187.0 109.6,187.6 113.0,191.6 110.0,192.4" fill="#8c510a" stroke="#7a4709" stroke-width="0.4"/>
<polygon points="168.2,140.0 168.8,137.1 173.5,135.3 180.6,135.3 187.6,136.5 190.6,134.1 196.5,134.1 193.5,137.6 195.3,140.6 197.1,143.5 190.0,144.4 182.9,143.5 175.9,144.4 169.4,143.5" fill="#8c510a" stroke="#7a4709" stroke-width="0.4"/>
<polygon points="159.4,137.6 162.9,134.7 167.6,132.4 175.3,132.4 179.4,134.1 173.5,134.9 168.2,136.8 164.1,138.8 161.2,139.2" fill="#8c510a" stroke="#7a4709" stroke-width="0.4"/>
<polygon points="175.3,128.2 181.8,126.5 189.4,125.3 187.6,127.1 181.8,128.2 177.1,129.1" fill="#8c510a" stroke="#7a4709" stroke-width="0.4"/>
<polygon points="181.2,130.0 188.8,128.8 197.1,127.6 200.6,129.4 194.7,130.9 186.5,131.8 182.4,131.2" fill="#8c510a" stroke="#7a4709" stroke-width="0.4"/>
<polygon points="194.1,125.1 198.2,123.5 201.8,123.5 199.4,125.1 195.9,125.9" fill="#8c510a" stroke="#7a4709" stroke-width="0.4"/>
<polygon points="198.8,135.3 202.9,133.3 208.8,132.9 206.5,135.9 202.9,138.2 200.6,137.3" fill="#8c510a" stroke="#7a4709" stroke-width="0.4"/>
<polygon points="205.3,128.8 211.2,127.4 214.1,128.2 211.2,130.2 206.5,130.6" fill="#8c510a" stroke="#7a4709" stroke-width="0.4"/>
<polygon points="208.2,122.7 212.4,122.4 215.3,124.1 211.2,124.4" fill="#8c510a" stroke="#7a4709" stroke-width="0.4"/>
<polygon points="209.4,134.7 213.5,132.9 219.4,132.9 215.9,135.3 211.2,136.8" fill="#8c510a" stroke="#7a4709" stroke-width="0.4"/>
<polygon points="217.1,127.6 222.9,126.5 227.6,127.6 238.2,129.4 238.8,131.2 231.2,132.1 222.9,131.8 219.4,130.0" fill="#8c510a" stroke="#7a4709" stroke-width="0.4"/>
<polygon points="217.6,123.9 221.8,123.2 222.9,125.3 219.4,125.5" fill="#8c510a" stroke="#7a4709" stroke-width="0.4"/>
<polygon points="197.4,142.1 201.1,141.2 202.5,142.6 199.2,143.5" fill="#8c510a" stroke="#7a4709" stroke-width="0.4"/>
<polygon points="212.9,130.4 216.2,129.4 217.6,130.8 214.8,131.8" fill="#8c510a" stroke="#7a4709" stroke-width="0.4"/>
<polygon points="194.1,125.2 197.4,123.8 201.6,123.1 201.1,124.2 197.8,125.6 195.0,125.9" fill="#8c510a" stroke="#7a4709" stroke-width="0.4"/>
<polygon points="168.2,144.5 173.8,144.3 179.5,144.9 178.5,146.1 171.9,146.1" fill="#8c510a" stroke="#7a4709" stroke-width="0.4"/>
<polygon points="225.0,120.0 238.0,117.6 258.0,116.0 277.0,116.6 270.0,119.0 258.0,122.0 250.0,124.4 242.0,126.0 239.0,128.4 228.0,127.6 224.0,125.0 230.0,123.0" fill="#8c510a" stroke="#7a4709" stroke-width="0.4"/>
<polygon points="216.5,138.5 218.5,136.0 223.0,134.2 228.0,134.5 233.0,133.8 237.0,133.5 240.0,134.5 242.0,137.0 247.0,139.0 250.5,141.0 251.0,143.5 248.0,145.0 253.0,147.0 256.5,148.5 254.0,151.0 251.0,152.5 249.0,151.0 246.0,150.0 244.8,151.8 247.5,153.5 248.0,156.5 245.5,158.0 243.0,158.5 240.0,157.0 236.5,156.0 234.0,154.5 232.0,153.0 228.0,154.0 225.0,154.0 226.0,152.5 230.0,151.8 234.0,151.2 237.0,149.0 239.0,146.5 237.0,144.5 234.0,142.5 230.0,142.0 226.0,142.5 224.0,145.0 221.0,147.5 217.0,149.0 215.0,148.7 216.0,146.5 219.0,144.0 220.0,141.5 217.0,140.5" fill="#8c510a" stroke="#7a4709" stroke-width="0.4"/>
<polygon points="231.0,146.2 234.0,145.3 235.0,146.2 232.5,147.5" fill="#8c510a" stroke="#7a4709" stroke-width="0.4"/>
<polygon points="208.5,155.5 213.5,151.2 217.0,153.0 220.0,155.5 216.0,156.0 211.5,157.2" fill="#8c510a" stroke="#7a4709" stroke-width="0.4"/>
<polygon points="212.0,158.5 215.5,157.2 216.2,158.0 213.0,159.2" fill="#8c510a" stroke="#7a4709" stroke-width="0.4"/>
<polygon points="217.8,159.5 219.5,158.8 219.8,160.0 218.3,160.5" fill="#8c510a" stroke="#7a4709" stroke-width="0.4"/>
<polygon points="242.5,194.0 246.0,190.0 250.0,186.2 251.5,185.8 250.5,188.5 252.5,190.0 255.0,190.5 256.0,193.0 255.5,196.0 253.5,197.5 252.0,195.5 249.5,196.2 248.0,194.5 245.0,195.0" fill="#8c510a" stroke="#7a4709" stroke-width="0.4"/>
<polygon points="234.0,194.5 237.0,193.8 237.5,194.6 234.8,195.2" fill="#8c510a" stroke="#7a4709" stroke-width="0.4"/>
<polygon points="155.1,275.6 155.3,272.6 158.8,272.1 160.0,272.6 159.4,276.8 161.2,278.5 158.8,281.5 156.5,282.9 153.5,282.1 151.8,279.7 152.9,277.4" fill="#01665e" stroke="#02574f" stroke-width="0.5"/>
<polygon points="180.6,316.2 185.5,318.4 191.2,322.6 200.4,325.4 201.1,329.6 197.5,331.1 194.0,335.3 194.0,340.2 198.2,344.5 201.8,347.3 204.6,350.8 205.3,359.3 203.9,366.4 200.4,364.2 189.8,357.2 185.5,349.4 179.9,339.5 175.6,333.9 176.4,328.2 178.5,326.1 176.4,322.6 177.8,318.4" fill="#01665e" stroke="#02574f" stroke-width="0.5"/>
<polygon points="222.0,372.0 225.0,369.6 231.0,371.0 233.0,377.0 238.0,379.0 241.0,384.0 240.0,390.0 234.0,390.4 232.4,385.0 228.0,381.0 223.0,378.0" fill="#01665e" stroke="#02574f" stroke-width="0.5"/>
<polygon points="356.2,290.0 363.2,290.6 363.8,297.1 364.6,303.5 359.1,306.5 356.2,305.3 355.6,299.4 356.4,294.7" fill="#01665e" stroke="#02574f" stroke-width="0.5"/>
<polygon points="396.2,285.3 397.4,288.8 398.5,292.4 396.8,292.9 397.9,297.1 396.2,301.8 397.4,306.5 399.7,311.2 399.7,314.1 392.6,312.9 385.6,312.9 385.0,309.4 382.6,307.1 383.2,304.7 385.6,301.8 389.1,300.6 392.6,294.7 395.6,287.6" fill="#01665e" stroke="#02574f" stroke-width="0.5"/>
<polygon points="540.1,191.2 545.9,186.9 551.2,188.0 557.0,189.1 558.1,184.3 561.8,184.8 566.0,186.4 570.2,188.5 575.5,188.0 580.8,189.6 587.2,190.6 591.4,188.5 596.7,189.6 597.8,194.4 603.1,194.4 607.8,196.7 604.1,198.6 598.8,201.2 594.6,202.3 596.2,204.4 593.5,207.1 589.3,208.6 584.0,210.2 578.7,208.6 572.4,207.6 564.9,207.3 560.7,203.9 555.4,201.8 550.6,200.7 549.1,197.5 544.8,194.4" fill="#01665e" stroke="#02574f" stroke-width="0.5"/>
<polygon points="498.4,242.0 503.0,243.0 510.0,242.0 511.0,238.0 516.0,236.0 516.4,231.0 518.4,227.0 518.0,224.0 523.0,222.4 528.0,225.0 531.6,227.0 527.0,229.0 525.6,232.0 528.0,235.0 527.0,240.0 524.0,244.0 520.4,248.0 521.0,252.0 522.4,255.0 516.0,257.0 512.0,253.0 501.0,253.0 502.4,248.0" fill="#01665e" stroke="#02574f" stroke-width="0.5"/>
<polygon points="446.5,205.3 451.2,206.5 456.5,207.6 460.6,209.4 461.2,211.2 458.2,211.8 454.7,210.6 451.2,210.0 448.8,207.6" fill="#01665e" stroke="#02574f" stroke-width="0.5"/>
<polygon points="455.3,211.8 458.2,211.8 460.0,214.1 462.4,216.5 461.5,217.6 459.4,216.5 457.1,214.7" fill="#01665e" stroke="#02574f" stroke-width="0.5"/>
<polyline points="176.4,329.6 180.6,331.8 185.5,325.4 189.8,321.9" fill="none" stroke="#3c8a83" stroke-width="0.5"/>
<polygon points="324.5,283.3 331.0,282.8 331.0,283.8 324.5,284.2" fill="#fff"/>
<polygon points="324.5,283.3 331.0,282.8 331.0,283.8 324.5,284.2" fill="url(#nodata)" stroke="#c9c9c9" stroke-width="0.6"/>
<polygon points="423.0,396.0 426.0,394.0 428.0,396.0 425.0,398.4" fill="#fff"/>
<polygon points="423.0,396.0 426.0,394.0 428.0,396.0 425.0,398.4" fill="url(#nodata)" stroke="#c9c9c9" stroke-width="0.6"/>
<polygon points="431.6,387.0 434.0,386.0 435.0,389.0 432.4,390.0" fill="#fff"/>
<polygon points="431.6,387.0 434.0,386.0 435.0,389.0 432.4,390.0" fill="url(#nodata)" stroke="#c9c9c9" stroke-width="0.6"/>
</g>

<text class="title" x="16" y="40" textLength="595" lengthAdjust="spacing">Average income of small-scale food producers, 2022</text>
<text class="sub" x="16.3" y="66.4" textLength="735.5" lengthAdjust="spacing">This data is adjusted for inflation and differences in living costs between countries. In some countries small-scale</text>
<text class="sub" x="16.3" y="84" textLength="486" lengthAdjust="spacing">food producers are running at a loss, this is reflected as a negative income.</text>
<g>
<rect x="769" y="16" width="65" height="36" fill="#002147"/>
<rect x="769" y="49.2" width="65" height="2.8" fill="#ce261e"/>
<text class="logo" x="801.5" y="30.6" text-anchor="middle">Our World</text>
<text class="logo" x="801.8" y="42.6" text-anchor="middle">in Data</text>
</g>

<g>
<text class="leg" x="239.5" y="510" text-anchor="middle">No data</text>
<line x1="239.5" y1="514.3" x2="239.5" y2="517.5" stroke="#bbb" stroke-width="0.8"/>
<rect x="215.9" y="517.2" width="48" height="10.9" rx="1" fill="url(#nodata)" stroke="#ccc" stroke-width="0.8"/>
<g stroke="#999" stroke-width="0.6">
<path d="M283,522.7 L288,517.2 L341.6,517.2 L341.6,528.1 L288,528.1 Z" fill="#8c510a"/>
<rect x="341.6" y="517.2" width="58.4" height="10.9" fill="#d8b365"/>
<rect x="400" y="517.2" width="58.5" height="10.9" fill="#e5f5e0"/>
<rect x="458.5" y="517.2" width="58.5" height="10.9" fill="#c7eae5"/>
<rect x="517" y="517.2" width="58.5" height="10.9" fill="#5ab4ac"/>
<path d="M575.5,517.2 L629,517.2 L634,522.7 L629,528.1 L575.5,528.1 Z" fill="#01665e"/>
</g>
<g stroke="#8a8a8a" stroke-width="0.7">
<line x1="341.6" y1="514.3" x2="341.6" y2="528"/>
<line x1="400" y1="514.3" x2="400" y2="528"/>
<line x1="458.5" y1="514.3" x2="458.5" y2="528"/>
<line x1="517" y1="514.3" x2="517" y2="528"/>
<line x1="575.5" y1="514.3" x2="575.5" y2="528"/>
</g>
<text class="leg" x="342" y="510" text-anchor="middle">-$2,000</text>
<text class="leg" x="400.6" y="510" text-anchor="middle">-$1,000</text>
<text class="leg" x="458.8" y="510" text-anchor="middle">$0</text>
<text class="leg" x="517.3" y="510" text-anchor="middle">$1,000</text>
<text class="leg" x="576" y="510" text-anchor="middle">$2,000</text>
</g>

<text class="foot" x="16.3" y="561" textLength="397.7" lengthAdjust="spacing"><tspan class="b">Data source:</tspan> Food and Agriculture Organization of the United Nations</text>
<text class="foot" x="16.3" y="580" textLength="348.7" lengthAdjust="spacing"><tspan class="b">Note:</tspan> This data is expressed in international-$ at 2017 prices.</text>
<text class="foot" x="597.6" y="561" textLength="234" lengthAdjust="spacing">OurWorldinData.org/food-prices | CC BY</text>
</svg>
</body>
</html>
